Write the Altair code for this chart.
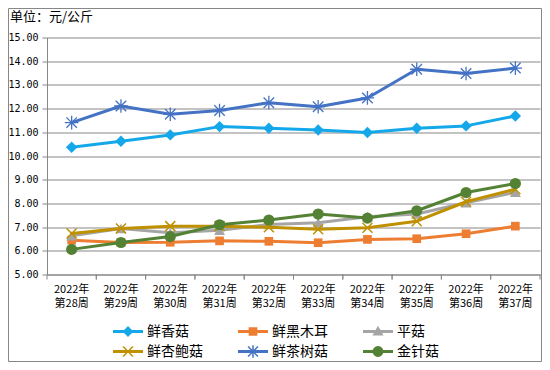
import math
import altair as alt
import pandas as pd

# ---------------- data ----------------
weeks = ["2022年 第28周", "2022年 第29周", "2022年 第30周", "2022年 第31周", "2022年 第32周",
         "2022年 第33周", "2022年 第34周", "2022年 第35周", "2022年 第36周", "2022年 第37周"]
series_names = ["鲜香菇", "鲜黑木耳", "平菇", "鲜杏鲍菇", "鲜茶树菇", "金针菇"]
xianggu = [10.37, 10.62, 10.89, 11.24, 11.17, 11.10, 10.99, 11.17, 11.27, 11.69]
heimuer = [6.45, 6.35, 6.36, 6.42, 6.40, 6.34, 6.48, 6.51, 6.72, 7.04]
pinggu = [6.63, 6.94, 6.76, 6.87, 7.11, 7.18, 7.44, 7.55, 8.03, 8.47]
xingbaogu = [6.73, 6.94, 7.04, 7.04, 6.99, 6.91, 6.97, 7.25, 8.07, 8.60]
chashugu = [11.41, 12.11, 11.76, 11.92, 12.25, 12.08, 12.45, 13.66, 13.48, 13.71]
jinzhengu = [6.06, 6.35, 6.60, 7.10, 7.30, 7.55, 7.38, 7.69, 8.46, 8.84]
y_ticks = [5, 6, 7, 8, 9, 10, 11, 12, 13, 14, 15]
unit_title = "单位：元/公斤"

series_values = [xianggu, heimuer, pinggu, xingbaogu, chashugu, jinzhengu]
colors = ["#14A8EA", "#ED7D31", "#A5A5A5", "#BF9000", "#4472C4", "#548235"]

rows = []
for name, vals in zip(series_names, series_values):
    for w, v in zip(weeks, vals):
        rows.append({"week": w, "series": name, "price": v})
df = pd.DataFrame(rows)

# ---------------- marker shapes ----------------
def poly(pts):
    s = 0.0
    for i in range(len(pts)):
        x1, y1 = pts[i]
        x2, y2 = pts[(i + 1) % len(pts)]
        s += x1 * y2 - x2 * y1
    if s < 0:
        pts = pts[::-1]
    return "M" + "L".join(f"{x:.3f},{y:.3f}" for x, y in pts) + "Z"

def bar(ax, ay, bx, by, w):
    dx, dy = bx - ax, by - ay
    L = math.hypot(dx, dy)
    nx, ny = -dy / L * w, dx / L * w
    return poly([(ax + nx, ay + ny), (bx + nx, by + ny), (bx - nx, by - ny), (ax - nx, ay - ny)])

line_part = poly([(-1, -0.1), (1, -0.1), (1, 0.1), (-1, 0.1)])
leg_diamond = poly([(0, -0.36), (0.36, 0), (0, 0.36), (-0.36, 0)])
leg_square = poly([(-0.29, -0.29), (0.29, -0.29), (0.29, 0.29), (-0.29, 0.29)])
leg_triangle = poly([(0, -0.38), (0.37, 0.26), (-0.37, 0.26)])
leg_circle = poly([(0.36 * math.cos(2 * math.pi * k / 24), 0.36 * math.sin(2 * math.pi * k / 24)) for k in range(24)])
leg_x = bar(-0.33, -0.33, 0.33, 0.33, 0.05) + bar(-0.33, 0.33, 0.33, -0.33, 0.05)
leg_star = leg_x + bar(0, -0.42, 0, 0.42, 0.05)
legend_shapes = [line_part + m for m in [leg_diamond, leg_square, leg_triangle, leg_x, leg_star, leg_circle]]

plot_markers = [
    dict(shape="diamond", size=130, filled=True, strokeWidth=0),
    dict(shape="square", size=75, filled=True, strokeWidth=0),
    dict(shape="triangle-up", size=120, filled=True, strokeWidth=0),
    dict(shape="M-1,-1L1,1M-1,1L1,-1", size=100, filled=False, strokeWidth=1.5),
    dict(shape="M-1,-1L1,1M-1,1L1,-1M0,-1.3L0,1.3M-1.3,0L1.3,0", size=110, filled=False, strokeWidth=1.3),
    dict(shape="circle", size=125, filled=True, strokeWidth=0),
]

W, H = 493, 237
PAD = {"left": 39, "top": 29.5, "right": 2, "bottom": 87.5}
GRID = "#878787"

x_enc = alt.X("week:N", sort=weeks,
              scale=alt.Scale(type="band", domain=weeks, paddingInner=0, paddingOuter=0),
              axis=alt.Axis(title=None, ticks=False, grid=False, domain=True, domainColor=GRID,
                            labelAngle=0, labelExpr="split(datum.label, ' ')",
                            labelFont="Noto Sans CJK SC", labelFontSize=11, labelColor="#000",
                            labelLineHeight=14, labelBaseline="top", labelPadding=9))
y_enc = alt.Y("price:Q", scale=alt.Scale(domain=[5, 15], nice=False, zero=False),
              axis=alt.Axis(title=None, values=y_ticks, format=".2f", grid=True, gridColor=GRID,
                            gridOpacity=1, gridWidth=1, domainColor=GRID, tickColor=GRID, tickSize=5,
                            labelFont="DejaVu Sans Mono", labelFontSize=10, labelColor="#000",
                            labelPadding=4))

layers = []
for name, col, mk in zip(series_names, colors, plot_markers):
    base = alt.Chart(df).transform_filter(alt.datum.series == name)
    layers.append(base.mark_line(strokeWidth=3, color=col, strokeJoin="round", strokeCap="round")
                  .encode(x=x_enc, y=y_enc))
    pm = base.mark_point(shape=mk["shape"], size=mk["size"], filled=mk["filled"],
                         opacity=1, strokeWidth=mk["strokeWidth"], color=col)
    layers.append(pm.encode(x=x_enc, y=y_enc))

legend = alt.Legend(title=None, orient="none", legendX=66, legendY=284, columns=3,
                    direction="horizontal",
                    symbolSize=900, symbolStrokeWidth=0, symbolOpacity=1, clipHeight=20,
                    labelFont="Noto Sans CJK SC", labelFontSize=14, labelColor="#000",
                    labelOffset=4, columnPadding=35, rowPadding=0, padding=0, symbolOffset=0)
legend_layer = alt.Chart(df).mark_point(filled=True).encode(
    x=x_enc, y=y_enc,
    color=alt.Color("series:N", scale=alt.Scale(domain=series_names, range=colors), legend=legend),
    shape=alt.Shape("series:N", scale=alt.Scale(domain=series_names, range=legend_shapes), legend=legend),
    opacity=alt.value(0),
)
layers.append(legend_layer)

tick_data = pd.DataFrame({"week": weeks})
for bp in (0, 1):
    layers.append(alt.Chart(tick_data).mark_rule(color=GRID, strokeWidth=1).encode(
        x=alt.X("week:N", bandPosition=bp, sort=weeks,
                scale=alt.Scale(type="band", domain=weeks, paddingInner=0, paddingOuter=0)),
        y=alt.value(H), y2=alt.value(H + 5)))

one = pd.DataFrame({"k": [0]})
layers.append(alt.Chart(one).mark_text(align="left", baseline="middle", fontSize=13,
                                       font="Noto Sans CJK SC", color="#000").encode(
    x=alt.value(-37), y=alt.value(-21), text=alt.value(unit_title)))
layers.append(alt.Chart(one).mark_rect(fillOpacity=0, stroke=GRID, strokeWidth=1).encode(
    x=alt.value(-38.5), x2=alt.value(W + 1.5), y=alt.value(-29), y2=alt.value(H + 87)))

chart = alt.layer(*layers).properties(
    width=W, height=H, padding=PAD, autosize=alt.AutoSizeParams(type="none"),
).configure_view(strokeWidth=0)

chart.save("out.html", embed_options={"renderer": "svg", "actions": False})
